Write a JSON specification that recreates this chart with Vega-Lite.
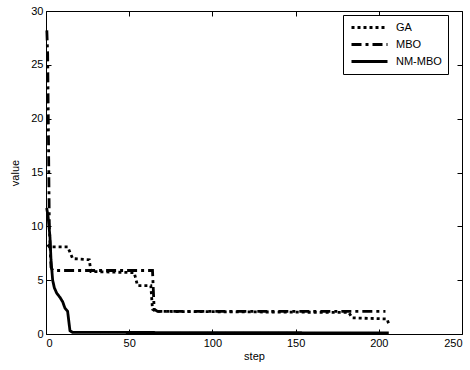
{
  "$schema": "https://vega.github.io/schema/vega-lite/v6.json",
  "width": 416,
  "height": 323,
  "autosize": {"type": "none"},
  "padding": {"left": 46, "top": 11, "right": 8, "bottom": 36},
  "background": "white",
  "config": {
    "view": {"stroke": "black", "strokeWidth": 1},
    "font": "Liberation Sans",
    "axis": {
      "grid": false,
      "domain": false,
      "tickColor": "black",
      "tickSize": -5,
      "labelColor": "black",
      "labelFontSize": 11,
      "labelFont": "Liberation Sans",
      "titleFont": "Liberation Sans",
      "titleFontSize": 11,
      "titleFontWeight": "normal",
      "titleColor": "black"
    }
  },
  "data": {
    "values": [
      {"step": 1, "value": 8.3, "series": "GA"},
      {"step": 2, "value": 8.1, "series": "GA"},
      {"step": 13, "value": 8.1, "series": "GA"},
      {"step": 16, "value": 7.0, "series": "GA"},
      {"step": 26, "value": 6.9, "series": "GA"},
      {"step": 27, "value": 5.8, "series": "GA"},
      {"step": 53, "value": 5.7, "series": "GA"},
      {"step": 55, "value": 4.5, "series": "GA"},
      {"step": 63, "value": 4.5, "series": "GA"},
      {"step": 64, "value": 2.3, "series": "GA"},
      {"step": 66, "value": 2.1, "series": "GA"},
      {"step": 182, "value": 2.0, "series": "GA"},
      {"step": 184, "value": 1.5, "series": "GA"},
      {"step": 205, "value": 1.4, "series": "GA"},
      {"step": 206, "value": 0.9, "series": "GA"},
      {"step": 0.5, "value": 28.2, "series": "MBO"},
      {"step": 1, "value": 26, "series": "MBO"},
      {"step": 1.5, "value": 18, "series": "MBO"},
      {"step": 2, "value": 10, "series": "MBO"},
      {"step": 3, "value": 6.2, "series": "MBO"},
      {"step": 4, "value": 5.9, "series": "MBO"},
      {"step": 64, "value": 5.9, "series": "MBO"},
      {"step": 65, "value": 2.3, "series": "MBO"},
      {"step": 67, "value": 2.1, "series": "MBO"},
      {"step": 204, "value": 2.1, "series": "MBO"},
      {"step": 0.4, "value": 11.7, "series": "NM-MBO"},
      {"step": 1.2, "value": 11.0, "series": "NM-MBO"},
      {"step": 2.4, "value": 9.0, "series": "NM-MBO"},
      {"step": 3, "value": 6.9, "series": "NM-MBO"},
      {"step": 4, "value": 5.0, "series": "NM-MBO"},
      {"step": 5, "value": 4.3, "series": "NM-MBO"},
      {"step": 6.4, "value": 3.8, "series": "NM-MBO"},
      {"step": 8.4, "value": 3.4, "series": "NM-MBO"},
      {"step": 10, "value": 3.0, "series": "NM-MBO"},
      {"step": 11.4, "value": 2.4, "series": "NM-MBO"},
      {"step": 13, "value": 2.1, "series": "NM-MBO"},
      {"step": 14.4, "value": 0.3, "series": "NM-MBO"},
      {"step": 16, "value": 0.15, "series": "NM-MBO"},
      {"step": 206, "value": 0.1, "series": "NM-MBO"}
    ]
  },
  "layer": [
    {
      "mark": {"type": "line", "color": "black", "strokeWidth": 2.8},
      "encoding": {
        "x": {
          "field": "step", "type": "quantitative",
          "scale": {"domain": [0, 250], "nice": false},
          "axis": {"title": "step", "values": [0, 50, 100, 150, 200, 250], "labelPadding": 8, "titlePadding": 2}
        },
        "y": {
          "field": "value", "type": "quantitative",
          "scale": {"domain": [0, 30], "nice": false},
          "axis": {"title": "value", "values": [0, 5, 10, 15, 20, 25, 30], "labelPadding": 8, "titlePadding": 10}
        },
        "strokeDash": {
          "field": "series", "type": "nominal",
          "scale": {"domain": ["GA", "MBO", "NM-MBO"], "range": [[3, 3], [10, 4, 3, 4], [1, 0]]},
          "legend": {
            "title": null,
            "orient": "none",
            "legendX": 297,
            "legendY": 4,
            "strokeColor": "black",
            "fillColor": "white",
            "padding": 6,
            "rowPadding": 4,
            "symbolType": "M-3.6,0H3.6",
            "symbolSize": 100,
            "symbolOffset": 14,
            "symbolStrokeWidth": 3,
            "symbolStrokeColor": "black",
            "symbolFillColor": "transparent",
            "labelFontSize": 11,
            "labelFont": "Liberation Sans",
            "labelColor": "black",
            "labelOffset": 20
          }
        },
        "order": {"field": "step", "type": "quantitative"}
      }
    },
    {
      "mark": {"type": "line", "strokeOpacity": 0},
      "encoding": {
        "x": {"field": "step", "type": "quantitative", "axis": {"orient": "top", "labels": false, "title": null, "values": [0, 50, 100, 150, 200, 250]}},
        "y": {"field": "value", "type": "quantitative", "axis": {"orient": "right", "labels": false, "title": null, "values": [0, 5, 10, 15, 20, 25, 30]}},
        "detail": {"field": "series"}
      }
    }
  ],
  "resolve": {"axis": {"x": "independent", "y": "independent"}}
}
